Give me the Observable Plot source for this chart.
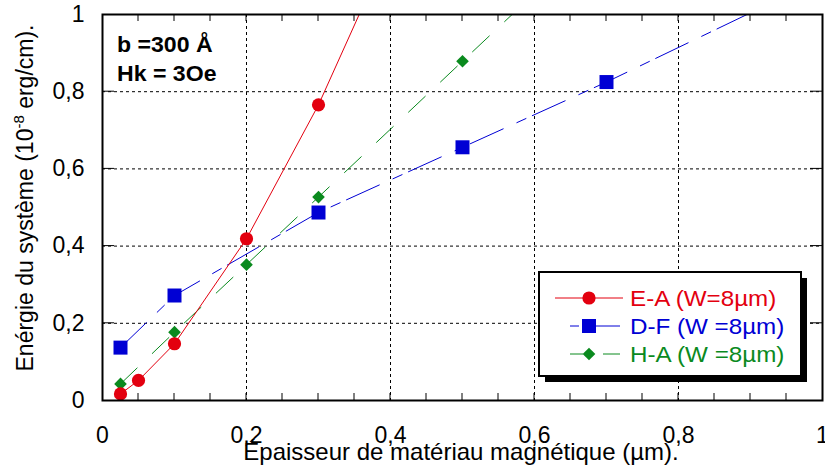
<!DOCTYPE html>
<html><head><meta charset="utf-8">
<script src="https://cdn.jsdelivr.net/npm/d3@7"></script>
<script src="https://cdn.jsdelivr.net/npm/@observablehq/plot@0.6"></script>
<style>
body{margin:0;background:#fff}
#chart{width:825px;height:468px}
</style>
</head><body><div id="chart"></div>
<script>
// --- data ---
const seriesNames = ["E-A (W=8µm)", "D-F (W =8µm)", "H-A (W =8µm)"];
const seriesColors = ["#e3000f", "#0000d4", "#0a8a1e"];
// E-A : red circles, solid line (last point lies above the frame and is clipped)
const xEA = [0.025, 0.05, 0.1, 0.2, 0.3, 0.4];
const yEA = [0.017, 0.052, 0.147, 0.419, 0.766, 1.18];
// D-F : blue squares, long-short dashed line
const xDF = [0.025, 0.1, 0.3, 0.5, 0.7, 1.0];
const yDF = [0.137, 0.272, 0.487, 0.656, 0.825, 1.094];
// H-A : green diamonds, dashed line
const xHA = [0.025, 0.1, 0.2, 0.3, 0.5, 0.7];
const yHA = [0.043, 0.177, 0.352, 0.527, 0.879, 1.23];

const xTicks = [0, 0.2, 0.4, 0.6, 0.8, 1];
const yTicks = [0, 0.2, 0.4, 0.6, 0.8, 1];
const xGrid = [0.2, 0.4, 0.6, 0.8];
const yGrid = [0.2, 0.4, 0.6, 0.8];
const xMinor = [0.05, 0.1, 0.15, 0.2, 0.25, 0.3, 0.35, 0.4, 0.45, 0.5, 0.55, 0.6, 0.65, 0.7, 0.75, 0.8, 0.85, 0.9, 0.95];
const annotLines = ["b =300 Å", "Hk = 3Oe"];
const xTitle = "Épaisseur de matériau magnétique (µm).";
const yTitleParts = ["Enérgie du système (10", "-8", " erg/cm)."];

const FONT = "'Liberation Sans', Arial, Helvetica, sans-serif";
const fmt = d => String(d).replace(".", ",");
const rows = (xs, ys) => xs.map((x, i) => ({x, y: ys[i]}));
const dEA = rows(xEA, yEA), dDF = rows(xDF, yDF), dHA = rows(xHA, yHA);

const dashEA = null, dashDF = "36,15,10,7", dashHA = "23,21";

const plot = Plot.plot({
  width: 825, height: 468,
  marginLeft: 102, marginRight: 3, marginTop: 14, marginBottom: 68,
  style: {fontFamily: FONT, fontSize: "23px", color: "black", background: "white", overflow: "visible"},
  x: {domain: [0, 1]},
  y: {domain: [0, 1]},
  marks: [
    Plot.gridX(xGrid, {stroke: "black", strokeOpacity: 1, strokeWidth: 1, strokeDasharray: "3,3"}),
    Plot.gridY(yGrid, {stroke: "black", strokeOpacity: 1, strokeWidth: 1, strokeDasharray: "3,3"}),
    Plot.axisX({ticks: xTicks, anchor: "bottom", tickSize: 0, tickPadding: 26, tickFormat: fmt, label: null, fontSize: 23}),
    Plot.axisY({ticks: yTicks, anchor: "left", tickSize: 0, tickPadding: 18, tickFormat: fmt, label: null, fontSize: 23}),
    Plot.line(dHA, {x: "x", y: "y", stroke: seriesColors[2], strokeWidth: 1, strokeDasharray: dashHA, clip: true}),
    Plot.line(dDF, {x: "x", y: "y", stroke: seriesColors[1], strokeWidth: 1, strokeDasharray: dashDF, clip: true}),
    Plot.line(dEA, {x: "x", y: "y", stroke: seriesColors[0], strokeWidth: 1, clip: true}),
    Plot.dot(dHA, {x: "x", y: "y", symbol: "diamond2", r: 5.7, fill: seriesColors[2], stroke: "none", clip: true}),
    Plot.dot(dDF, {x: "x", y: "y", symbol: "square", r: 7.9, fill: seriesColors[1], stroke: "none", clip: true}),
    Plot.dot(dEA, {x: "x", y: "y", symbol: "circle", r: 6.6, fill: seriesColors[0], stroke: "none", clip: true}),
    Plot.frame({stroke: "black", strokeWidth: 2})
  ]
});
document.getElementById("chart").appendChild(plot);

const svg = d3.select(plot);
const sx = v => plot.scale("x").apply(v);
const sy = v => plot.scale("y").apply(v);
const [fx0, fx1] = [sx(0), sx(1)];
const [fy0, fy1] = [sy(0), sy(1)];

// inward minor ticks on top and bottom, inward major ticks on left and right
const tk = svg.append("g").attr("stroke", "black").attr("stroke-width", 1);
xMinor.forEach(v => {
  tk.append("line").attr("x1", sx(v)).attr("x2", sx(v)).attr("y1", fy0).attr("y2", fy0 - 7);
  tk.append("line").attr("x1", sx(v)).attr("x2", sx(v)).attr("y1", fy1).attr("y2", fy1 + 7);
});
yGrid.forEach(v => {
  tk.append("line").attr("x1", fx0).attr("x2", fx0 + 12).attr("y1", sy(v)).attr("y2", sy(v));
  tk.append("line").attr("x1", fx1).attr("x2", fx1 - 12).attr("y1", sy(v)).attr("y2", sy(v));
});

// annotation (top-left inside frame)
const ann = svg.append("g").attr("font-family", FONT).attr("font-weight", "bold").attr("font-size", 22)
  .attr("fill", "black").attr("text-anchor", "start");
annotLines.forEach((t, i) => ann.append("text").attr("transform", `translate(117,${52 + i * 29}) scale(1.05,1)`).text(t));

// axis titles
svg.append("text").attr("x", 461).attr("y", 460).attr("text-anchor", "middle")
  .attr("font-family", FONT).attr("font-size", 24).attr("fill", "black").text(xTitle);
const yt = svg.append("text").attr("transform", "translate(33,198) rotate(-90)").attr("text-anchor", "middle")
  .attr("font-family", FONT).attr("font-size", 23).attr("fill", "black");
yt.append("tspan").text(yTitleParts[0]);
yt.append("tspan").attr("dy", -9).attr("font-size", 15).text(yTitleParts[1]);
yt.append("tspan").attr("dy", 9).text(yTitleParts[2]);

// legend
const lg = svg.append("g").attr("font-family", FONT).attr("font-size", 22).attr("text-anchor", "start");
lg.append("rect").attr("x", 545).attr("y", 278).attr("width", 262).attr("height", 104).attr("fill", "black");
lg.append("rect").attr("x", 539).attr("y", 272).attr("width", 262).attr("height", 104)
  .attr("fill", "white").attr("stroke", "black").attr("stroke-width", 2);
const legendRows = [
  {sym: d3.symbolCircle, size: Math.PI * 6.6 * 6.6, x1: 555, x2: 623, dash: dashEA},
  {sym: d3.symbolSquare, size: Math.PI * 7.9 * 7.9, x1: 570, x2: 620, dash: "9,4,40,4"},
  {sym: d3.symbolDiamond2, size: Math.PI * 5.7 * 5.7, x1: 570, x2: 620, dash: "13,20,17,100"}
];
legendRows.forEach((r, i) => {
  const cy = 298 + i * 28;
  const c = seriesColors[i];
  const ln = lg.append("line").attr("x1", r.x1).attr("x2", r.x2).attr("y1", cy).attr("y2", cy)
    .attr("stroke", c).attr("stroke-width", 1);
  if (r.dash) ln.attr("stroke-dasharray", r.dash);
  lg.append("path").attr("d", d3.symbol(r.sym, r.size)()).attr("transform", `translate(589,${cy})`).attr("fill", c);
  lg.append("text").attr("transform", `translate(630,${cy + 8}) scale(1.1,1)`).attr("fill", c).text(seriesNames[i]);
});
</script>
</body></html>
